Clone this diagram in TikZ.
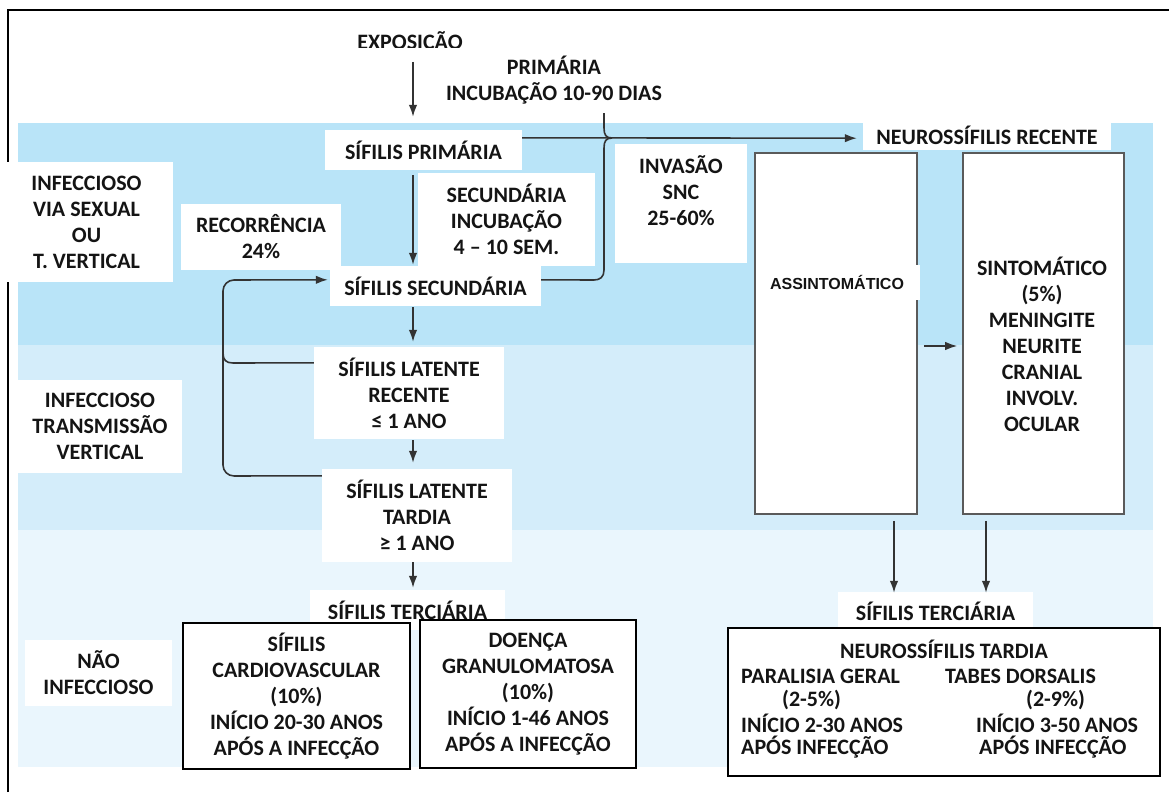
\documentclass[tikz,border=0pt]{standalone}
\usepackage{fontspec}
\setmainfont{Carlito}
\newfontfamily\arialfont{Liberation Sans}
\usetikzlibrary{arrows.meta,calc}
\definecolor{bandA}{HTML}{B9E4F8}
\definecolor{bandB}{HTML}{D4EDFA}
\definecolor{bandC}{HTML}{EAF6FD}
\definecolor{arrowc}{HTML}{333333}
\definecolor{ink}{HTML}{141414}
\definecolor{gborder}{HTML}{5A5A5A}
\begin{document}
\begin{tikzpicture}[x=1pt,y=-1pt,
  txt/.style={font=\bfseries\fontsize{22}{26}\selectfont, text=ink, align=center, inner sep=0pt},
  wbox/.style={txt, fill=white, draw=none},
  fbox/.style={txt, fill=white, draw=black, line width=1.6pt},
  gbox/.style={fill=white, draw=gborder, line width=1.6pt, inner sep=0pt},
  arr/.style={draw=arrowc, line width=1.6pt, -{Latex[length=12pt,width=8.5pt]}},
  conn/.style={draw=arrowc, line width=1.6pt},
]
\useasboundingbox (0,0) rectangle (1169,792);
\fill[white] (0,0) rectangle (1169,792);
% background bands
\fill[bandA] (18,123) rectangle (1153,345);
\fill[bandB] (18,345) rectangle (1153,530);
\fill[bandC] (18,530) rectangle (1153,767);
% frame
\draw[black, line width=2pt] (8,792) -- (8,10) -- (1169,10);

% top labels
\begin{scope}
\clip (330,15) rectangle (490,47.5);
\node[txt, anchor=base] (expo) at (410,49) {EXPOSIÇÃO};
\end{scope}
\node[txt] (primlab) at (554,80) {PRIMÁRIA\\INCUBAÇÃO 10-90 DIAS};

% left column
\node[wbox, minimum width=197pt, minimum height=40pt] (sp) at (423.5,150) {SÍFILIS PRIMÁRIA};
\node[wbox, minimum width=177pt, minimum height=93pt] (seclab) at (506.5,219.5) {SECUNDÁRIA\\INCUBAÇÃO\\4 – 10 SEM.};
\node[wbox, minimum width=160pt, minimum height=66pt] (rec) at (261,237) {RECORRÊNCIA\\24\%};
\node[wbox, minimum width=211pt, minimum height=40pt] (ss) at (435.5,286) {SÍFILIS SECUNDÁRIA};
\node[wbox, minimum width=190pt, minimum height=92pt] (lr) at (409,393) {SÍFILIS LATENTE\\RECENTE\\≤ 1 ANO};
\node[wbox, minimum width=190pt, minimum height=93pt] (lt) at (417,515.5) {SÍFILIS LATENTE\\TARDIA\\≥ 1 ANO};
\node[wbox, minimum width=195pt, minimum height=40pt] (st1) at (407.5,610) {SÍFILIS TERCIÁRIA};
\node[fbox, minimum width=227pt, minimum height=146pt] (cv) at (296.5,696) {SÍFILIS\\CARDIOVASCULAR\\(10\%)\\INÍCIO 20-30 ANOS\\APÓS A INFECÇÃO};
\node[fbox, minimum width=216pt, minimum height=148pt] (dg) at (528,694) {DOENÇA\\GRANULOMATOSA\\(10\%)\\INÍCIO 1-46 ANOS\\APÓS A INFECÇÃO};

% side labels
\node[wbox, minimum width=173pt, minimum height=120pt] (inf1) at (86.5,222) {INFECCIOSO\\VIA SEXUAL\\OU\\T. VERTICAL};
\node[wbox, minimum width=164pt, minimum height=93pt] (inf2) at (100,426.5) {INFECCIOSO\\TRANSMISSÃO\\VERTICAL};
\node[wbox, minimum width=147pt, minimum height=66pt] (nao) at (98.5,673) {NÃO\\INFECCIOSO};

% right part
\node[wbox, minimum width=132pt, minimum height=119pt] (inv) at (681,203.5) {};
\node[txt] (invt) at (681,191) {INVASÃO\\SNC\\25-60\%};
\node[wbox, minimum width=248pt, minimum height=30pt] (nr) at (987,135) {NEUROSSÍFILIS RECENTE};
\node[gbox, minimum width=162pt, minimum height=361pt] (asx) at (836,333.5) {};
\fill[white] (915.5,265) rectangle (919.5,300);
\node[font=\arialfont\bfseries\fontsize{16}{19}\selectfont, text=ink, inner sep=0pt] (asxt) at (837,282) {ASSINTOMÁTICO};
\node[gbox, minimum width=161pt, minimum height=361pt] (sin) at (1043.5,333.5) {};
\node[txt] (sint) at (1042,344) {SINTOMÁTICO\\(5\%)\\MENINGITE\\NEURITE\\CRANIAL\\INVOLV.\\OCULAR};
\node[wbox, minimum width=195pt, minimum height=38pt] (st2) at (935.5,611) {SÍFILIS TERCIÁRIA};
\node[fbox, minimum width=432pt, minimum height=148pt] (nt) at (944,702) {};
\node[txt] (ntt) at (944,649) {NEUROSSÍFILIS TARDIA};
\node[txt, anchor=west] (pg1) at (741,676) {PARALISIA GERAL};
\node[txt, anchor=west] (pg2) at (782,700) {(2-5\%)};
\node[txt, anchor=west] (pg3) at (741,723) {INÍCIO 2-30 ANOS};
\node[txt, anchor=west] (pg4) at (741,747) {APÓS INFECÇÃO};
\node[txt, anchor=west] (td1) at (945,676) {TABES DORSALIS};
\node[txt, anchor=west] (td2) at (1026,700) {(2-9\%)};
\node[txt, anchor=west] (td3) at (976,723) {INÍCIO 3-50 ANOS};
\node[txt, anchor=west] (td4) at (979,747) {APÓS INFECÇÃO};

% connectors, main column
\coordinate (colx) at (413,0);
\draw[arr, shorten <=9pt, shorten >=13pt] (expo.south -| colx) -- (sp.north -| colx);
\draw[arr, shorten <=5pt, shorten >=1pt] (sp.south -| colx) -- (ss.north -| colx);
\draw[arr, shorten <=1pt, shorten >=5pt] (ss.south -| colx) -- (lr.north -| colx);
\draw[arr, shorten <=1pt, shorten >=6pt] (lr.south -| colx) -- (lt.north -| colx);
\draw[arr, shorten >=2pt] (lt.south -| colx) -- (st1.north -| colx);

% recurrence loop
\coordinate (lbot) at (223,476);
\coordinate (ltop) at (223,280);
\coordinate (lrj) at (223,353);
\draw[arr, rounded corners=11pt] ($(lt.north west)+(0,7)$) -- (lbot) -- (ltop) -- ($(ss.north west)+(-2,14)$);
\draw[conn] ($(lr.north west)+(0,16)$) -- (233,363) .. controls (226,363) and (223,360) .. (lrj);

% brace towards neurosyphilis
\coordinate (brtop) at (604,113);
\coordinate (brtip) at (612,138);
\draw[conn] (brtop) -- (604,128) .. controls (604,135) and (606,138) .. (brtip);
\draw[conn] ($(ss.north east)+(0,14)$) -- (594,280) .. controls (600,280) and (604,277) .. (604,270) -- (604,148) .. controls (604,141) and (606,138) .. (brtip);
\draw[arr] ($(sp.north east)+(0,8)$) -- ($(nr.south west)+(-6,-12)$);

% right arrows
\coordinate (ary) at (0,346);
\draw[arr, shorten <=6pt, shorten >=5pt] (asx.east |- ary) -- (sin.west |- ary);
\coordinate (cola) at (894,0);
\coordinate (colb) at (986,0);
\draw[arr, shorten <=6pt, shorten >=-1pt] (asx.south -| cola) -- (st2.north -| cola);
\draw[arr, shorten <=6pt, shorten >=-1pt] (sin.south -| colb) -- (st2.north -| colb);
\end{tikzpicture}
\end{document}
